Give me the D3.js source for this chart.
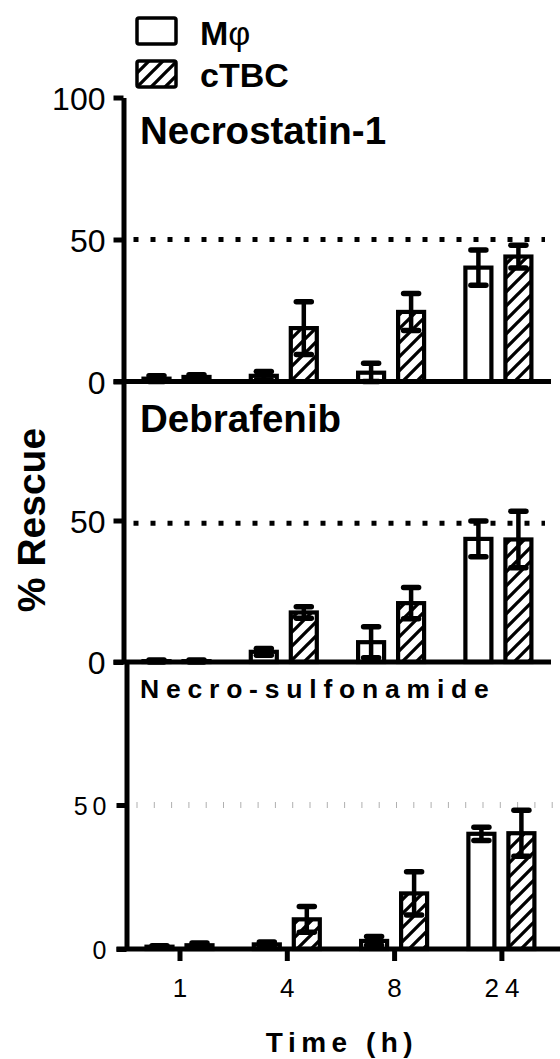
<!DOCTYPE html>
<html>
<head>
<meta charset="utf-8">
<script src="https://cdn.jsdelivr.net/npm/d3@7/dist/d3.min.js"></script>
<style>
body { margin: 0; background: #fff; }
text { font-family: "Liberation Sans", Arial, sans-serif; fill: #000; }
</style>
</head>
<body>
<div class="rescueDiv"></div>
<script>
// categories and labels
const timePoints = ['1', '4', '8', '24'];
const seriesNames = ['Mφ', 'cTBC'];
const panelTitles = ['Necrostatin-1', 'Debrafenib', 'Necro-sulfonamide'];

// Necrostatin-1
const necMphMean = [1.0, 2.0, 3.1, 40.1];
const necMphSd = [1.0, 1.5, 3.3, 6.2];
const necTbcMean = [1.6, 18.8, 24.5, 44.0];
const necTbcSd = [0.8, 9.3, 6.5, 4.0];

// Debrafenib
const debMphMean = [0.3, 3.6, 7.0, 43.5];
const debMphSd = [0.4, 1.2, 5.5, 6.3];
const debTbcMean = [0.3, 17.5, 20.8, 43.3];
const debTbcSd = [0.4, 2.0, 5.5, 10.0];

// Necro-sulfonamide
const nsaMphMean = [0.8, 1.6, 2.8, 40.0];
const nsaMphSd = [0.3, 0.8, 1.5, 2.3];
const nsaTbcMean = [1.3, 10.3, 19.3, 40.2];
const nsaTbcSd = [0.8, 4.5, 7.5, 8.0];

const refLineValues = [50, 49, 50];
const topTicks = [0, 50, 100];
const lowerTicks = [0, 50];

const width = 560;
const height = 1059;

const svg = d3.select('.rescueDiv')
    .append('svg')
    .attr('width', width)
    .attr('height', height);

const defs = svg.append('defs');
defs.append('pattern')
    .attr('id', 'hatch')
    .attr('patternUnits', 'userSpaceOnUse')
    .attr('width', 14)
    .attr('height', 14)
    .append('path')
    .attr('d', 'M-2,2 l4,-4 M0,14 l14,-14 M12,16 l4,-4')
    .attr('stroke', '#000')
    .attr('stroke-width', 3.3);

// panel placement
const panels = [
    {title: panelTitles[0], mean: [necMphMean, necTbcMean], sd: [necMphSd, necTbcSd], ref: refLineValues[0],
        ticks: topTicks, y0: 381.5, y1: 97.5, ax: 123.5, right: 551, small: false, titleY: 144},
    {title: panelTitles[1], mean: [debMphMean, debTbcMean], sd: [debMphSd, debTbcSd], ref: refLineValues[1],
        ticks: lowerTicks, y0: 662, y1: 379, ax: 123.5, right: 551, small: false, titleY: 432},
    {title: panelTitles[2], mean: [nsaMphMean, nsaTbcMean], sd: [nsaMphSd, nsaTbcSd], ref: refLineValues[2],
        ticks: lowerTicks, y0: 949, y1: 661, ax: 126.5, right: 560, small: true, titleY: 698}
];

panels.forEach(p => drawPanel(p));

function drawPanel(p){

    const y = d3.scaleLinear().domain([0, 100]).range([p.y0, p.y1]);
    const x = d3.scalePoint().domain(timePoints).range([p.ax + 53, p.ax + 53 + 3 * 107.3]);
    const sub = d3.scaleBand().domain(seriesNames).range([-40, 40]);
    const barW = sub.bandwidth() * 0.65;

    const g = svg.append('g');

    // dotted reference line, gray short dashes on the bottom graph
    g.append('line')
        .attr('x1', p.ax + 10)
        .attr('x2', p.right - 6)
        .attr('y1', y(p.ref))
        .attr('y2', y(p.ref))
        .attr('stroke', p.small ? '#b0b0b0' : '#000')
        .attr('stroke-width', p.small ? 6 : 5)
        .attr('stroke-dasharray', p.small ? '1,16.3' : '5,12');

    const rows = [];
    seriesNames.forEach((s, si) =>{
        timePoints.forEach((t, ti) =>{
            rows.push({series: s, time: t, mean: p.mean[si][ti], sd: p.sd[si][ti], si: si});
        });
    });

    g.selectAll('rect.bar')
        .data(rows)
        .enter()
        .append('rect')
        .attr('class', 'bar')
        .attr('x', d => x(d.time) + sub(d.series) + (sub.bandwidth() - barW) / 2)
        .attr('width', barW)
        .attr('y', d => y(d.mean))
        .attr('height', d => y(0) - y(d.mean))
        .attr('fill', d => d.si == 0 ? '#fff' : 'url(#hatch)')
        .attr('stroke', '#000')
        .attr('stroke-width', 4.2);

    const cxOf = d => x(d.time) + sub(d.series) + sub.bandwidth() / 2;

    g.selectAll('line.err')
        .data(rows)
        .enter()
        .append('line')
        .attr('class', 'err')
        .attr('x1', cxOf)
        .attr('x2', cxOf)
        .attr('y1', d => y(Math.max(0, d.mean - d.sd)))
        .attr('y2', d => y(d.mean + d.sd))
        .attr('stroke', '#000')
        .attr('stroke-width', 4.5);

    ['hi', 'lo'].forEach(k =>{
        g.selectAll('line.cap' + k)
            .data(rows)
            .enter()
            .append('line')
            .attr('class', 'cap' + k)
            .attr('x1', d => cxOf(d) - 7.5)
            .attr('x2', d => cxOf(d) + 7.5)
            .attr('y1', d => y(k == 'hi' ? d.mean + d.sd : Math.max(0, d.mean - d.sd)))
            .attr('y2', d => y(k == 'hi' ? d.mean + d.sd : Math.max(0, d.mean - d.sd)))
            .attr('stroke', '#000')
            .attr('stroke-width', 5.5)
            .attr('stroke-linecap', 'round');
    });

    // y axis
    const yAxis = g.append('g')
        .attr('transform', `translate(${p.ax},0)`)
        .call(d3.axisLeft(y)
            .tickValues(p.ticks)
            .tickSize(10)
            .tickSizeOuter(0)
            .tickPadding(8));

    yAxis.select('.domain').attr('stroke-width', 5);
    yAxis.selectAll('.tick line').attr('stroke-width', 5);
    yAxis.selectAll('.tick text')
        .style('font-size', p.small ? '25px' : '32px')
        .style('letter-spacing', p.small ? '5px' : null)
        .attr('dy', '0.36em');
    if(p.small){
        yAxis.selectAll('.tick text').attr('dx', 3);
    }

    // baseline
    g.append('line')
        .attr('x1', p.ax - 10)
        .attr('x2', p.right)
        .attr('y1', y(0))
        .attr('y2', y(0))
        .attr('stroke', '#000')
        .attr('stroke-width', 5);

    // x axis only on the bottom panel
    if(p.small){
        const xAxis = g.append('g')
            .attr('transform', `translate(0,${y(0) + 2})`)
            .call(d3.axisBottom(x).tickSize(10).tickPadding(18).tickSizeOuter(0));
        xAxis.select('.domain').remove();
        xAxis.selectAll('.tick line').attr('stroke-width', 5);
        xAxis.selectAll('.tick text')
            .style('font-size', '26px')
            .style('letter-spacing', '6px')
            .attr('dx', 3);
    }

    // panel title
    g.append('text')
        .attr('x', 140)
        .attr('y', p.titleY)
        .attr('font-weight', 'bold')
        .style('font-size', p.small ? '26.5px' : '38.5px')
        .style('letter-spacing', p.small ? '6.8px' : null)
        .text(p.title);
}

// axis titles
svg.append('text')
    .attr('transform', 'translate(45,520) rotate(-90)')
    .attr('text-anchor', 'middle')
    .attr('font-weight', 'bold')
    .style('font-size', '39px')
    .text('% Rescue');

svg.append('text')
    .attr('x', 342)
    .attr('y', 1052)
    .attr('text-anchor', 'middle')
    .attr('font-weight', 'bold')
    .style('font-size', '28px')
    .style('letter-spacing', '5.5px')
    .text('Time (h)');

// legend
const legend = svg.append('g').attr('class', 'legend');
seriesNames.forEach((s, i) =>{
    legend.append('rect')
        .attr('x', 137)
        .attr('y', 18 + i * 43)
        .attr('width', 39)
        .attr('height', 26)
        .attr('rx', 2)
        .attr('fill', i == 0 ? '#fff' : 'url(#hatch)')
        .attr('stroke', '#000')
        .attr('stroke-width', 3.5);

    const t = legend.append('text')
        .attr('x', 200)
        .attr('y', 45 + i * 42)
        .attr('font-weight', 'bold')
        .style('font-size', '34px');
    if(s == 'Mφ'){
        t.append('tspan').text('M');
        t.append('tspan').attr('font-weight', 'normal').text('φ');
    }
    else{
        t.text(s);
    }
});
</script>
</body>
</html>
